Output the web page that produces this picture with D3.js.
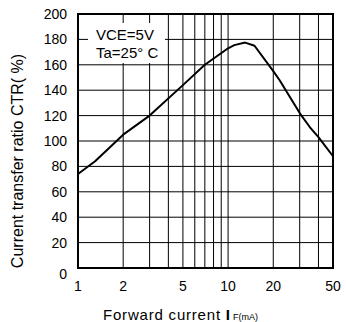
<!DOCTYPE html>
<html>
<head>
<meta charset="utf-8">
<script src="https://cdn.jsdelivr.net/npm/d3@7"></script>
<style>
  html, body { margin: 0; padding: 0; background: #fff; }
  svg { display: block; font-family: Arial, "Liberation Sans", sans-serif; }
</style>
</head>
<body>
<svg id="chart" width="346" height="322"></svg>
<script>
// Data
const currentIF = [1, 1.3, 2, 3, 5, 7, 10, 11, 13, 15, 20, 22, 30, 35, 40, 50];
const ctrValues = [74, 84, 105, 120, 144, 160, 173, 175.5, 177.5, 175, 155, 148, 122, 111, 103, 88];
const xTickValues = [1, 2, 5, 10, 20, 50];
const xGridValues = [2, 3, 4, 5, 6, 7, 8, 9, 10, 20, 30, 40];
const yTickValues = [0, 20, 40, 60, 80, 100, 120, 140, 160, 180, 200];
const annotationLines = ["VCE=5V", "Ta=25° C"];

const svg = d3.select("#chart");
const W = 346, H = 322;
const m = { left: 78, right: 333, top: 14, bottom: 268 };

svg.append("rect").attr("width", W).attr("height", H).attr("fill", "#fff");

const x = d3.scaleLog().domain([1, 50]).range([m.left, m.right]);
const y = d3.scaleLinear().domain([0, 200]).range([m.bottom, m.top]);

// Grid
const grid = svg.append("g");
grid.selectAll("line.v").data(xGridValues).join("line")
  .attr("x1", d => x(d)).attr("x2", d => x(d))
  .attr("y1", m.top).attr("y2", m.bottom)
  .attr("stroke", "#000").attr("stroke-width", 1);
grid.selectAll("line.h").data(yTickValues.filter(v => v > 0 && v < 200)).join("line")
  .attr("x1", m.left).attr("x2", m.right)
  .attr("y1", d => y(d)).attr("y2", d => y(d))
  .attr("stroke", "#000").attr("stroke-width", 1);

// Annotation box (white, hides grid)
svg.append("rect")
  .attr("x", 88).attr("y", 23).attr("width", 77).attr("height", 40)
  .attr("fill", "#fff");
svg.append("g").selectAll("text").data(annotationLines).join("text")
  .attr("x", 96).attr("y", (d, i) => 40 + i * 18)
  .attr("font-size", 15).attr("fill", "#000")
  .text(d => d);

// Curve
const line = d3.line().x((d, i) => x(currentIF[i])).y(d => y(d));
svg.append("path")
  .attr("d", line(ctrValues))
  .attr("fill", "none").attr("stroke", "#000")
  .attr("stroke-width", 2).attr("stroke-linejoin", "round");

// Frame
svg.append("rect")
  .attr("x", m.left).attr("y", m.top)
  .attr("width", m.right - m.left).attr("height", m.bottom - m.top)
  .attr("fill", "none").attr("stroke", "#000").attr("stroke-width", 2);

// Y tick labels
svg.append("g").selectAll("text").data(yTickValues).join("text")
  .attr("x", 67)
  .attr("y", d => y(d) + (d === 0 ? 11 : 5))
  .attr("text-anchor", "end").attr("font-size", 14).attr("fill", "#000")
  .text(d => d);

// X tick labels
svg.append("g").selectAll("text").data(xTickValues).join("text")
  .attr("x", d => x(d)).attr("y", 291)
  .attr("text-anchor", "middle").attr("font-size", 14).attr("fill", "#000")
  .text(d => d);

// X axis title
const xt = svg.append("text").attr("x", 103).attr("y", 320).attr("fill", "#000");
xt.append("tspan").attr("font-size", 15).attr("letter-spacing", 0.8).text("Forward current ");
xt.append("tspan").attr("font-size", 15).attr("font-weight", "bold").text("I");
xt.append("tspan").attr("font-size", 9).attr("dx", 3).text("F(mA)");

// Y axis title
svg.append("text")
  .attr("transform", "translate(23,161) rotate(-90)")
  .attr("text-anchor", "middle").attr("font-size", 16).attr("fill", "#000")
  .text("Current transfer ratio CTR( %)");
</script>
</body>
</html>
